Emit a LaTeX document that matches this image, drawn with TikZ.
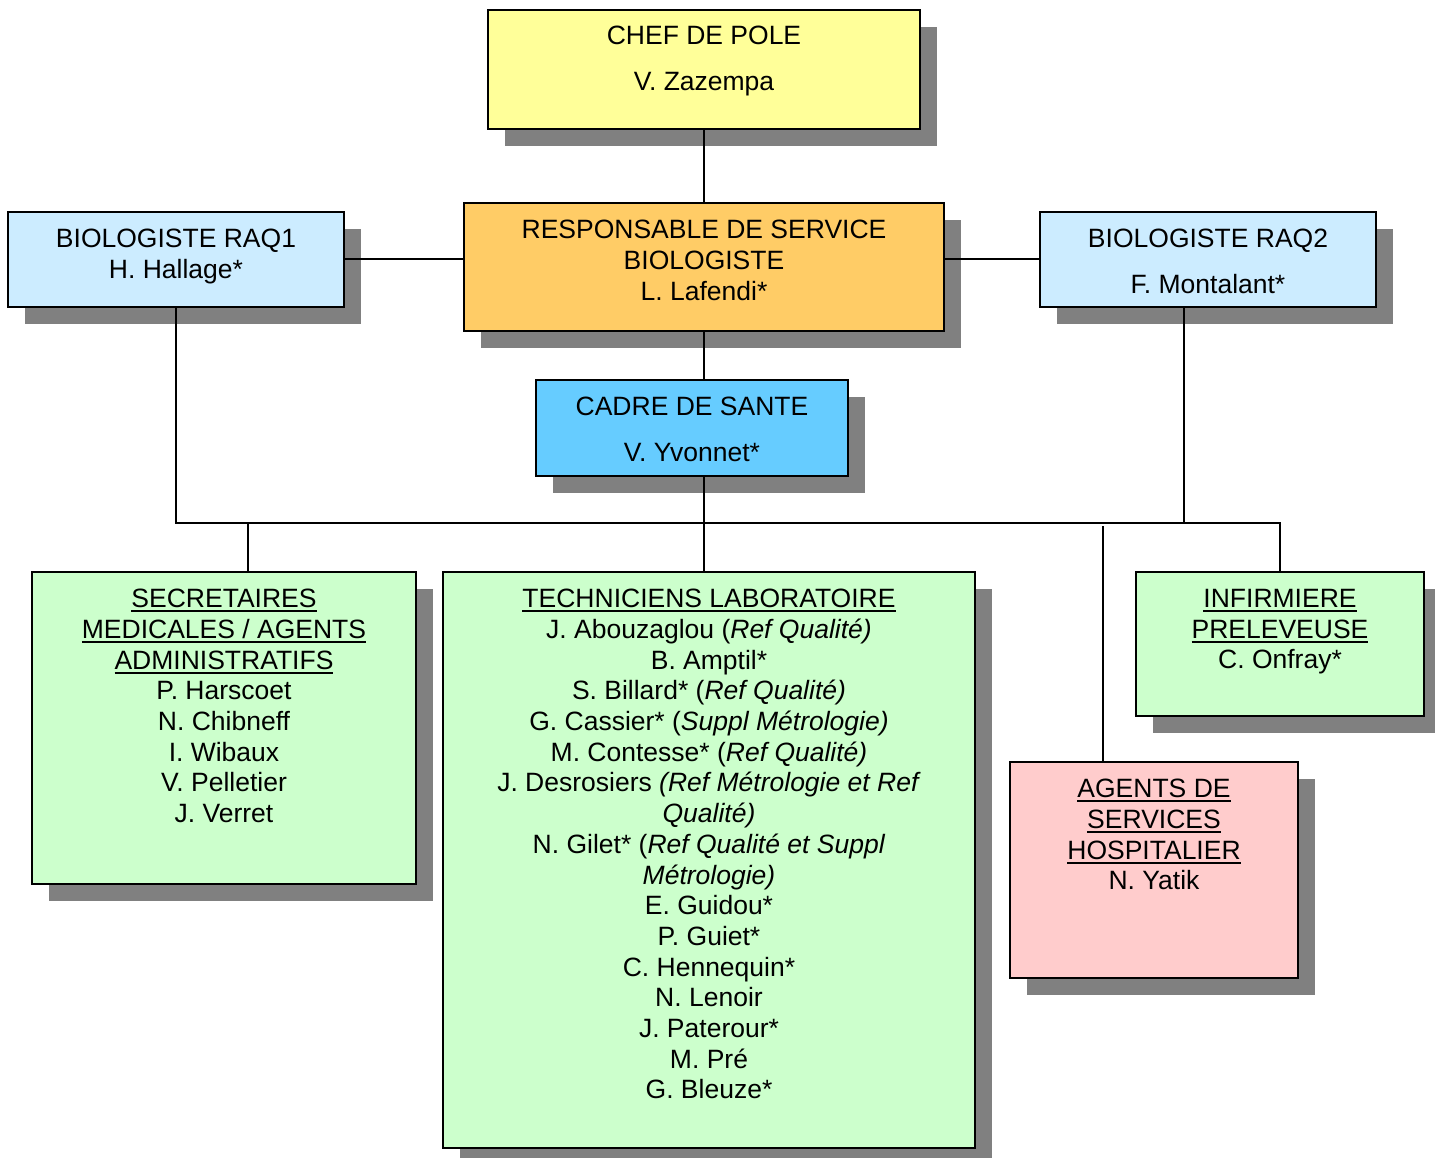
\documentclass[tikz,border=0pt]{standalone}
\usepackage{fontspec}
\setmainfont{Liberation Sans}
\usetikzlibrary{shadows}

\definecolor{jaune}{HTML}{FFFF99}
\definecolor{orange}{HTML}{FFCC66}
\definecolor{bleuclair}{HTML}{CCECFF}
\definecolor{bleu}{HTML}{66CCFF}
\definecolor{vert}{HTML}{CCFFCC}
\definecolor{rose}{HTML}{FFCCCC}
\definecolor{ombre}{HTML}{808080}

\newcommand\souligne[1]{\setbox0\hbox{#1}\rlap{\rule[-4.5pt]{\wd0}{1.8pt}}\box0}

\begin{document}
\begin{tikzpicture}[x=1pt, y=-1pt,
  boite/.style={rectangle, draw, line width=2pt, inner sep=0pt,
                drop shadow={shadow xshift=17pt, shadow yshift=-17pt, fill=ombre, opacity=1, draw=none}},
  texte/.style={anchor=north, align=center, inner sep=0pt,
                font=\fontsize{26.5}{30.7}\selectfont},
  trait/.style={line width=2pt}]
\useasboundingbox (0,0) rectangle (1435,1158);

% boites
\node[boite, fill=jaune, minimum width=432pt, minimum height=119pt](chef) at (704,69.5){};
\node[boite, fill=orange, minimum width=480pt, minimum height=128pt](resp) at (704,267){};
\node[boite, fill=bleuclair, minimum width=336pt, minimum height=95pt](raq1) at (176,259.5){};
\node[boite, fill=bleuclair, minimum width=336pt, minimum height=95pt](raq2) at (1208,259.5){};
\node[boite, fill=bleu, minimum width=312pt, minimum height=96pt](cadre) at (692,428){};
\node[boite, fill=vert, minimum width=384pt, minimum height=312pt](secr) at (224,728){};
\node[boite, fill=vert, minimum width=532pt, minimum height=576pt](tech) at (709,860){};
\node[boite, fill=vert, minimum width=288pt, minimum height=144pt](infi) at (1280,644){};
\node[boite, fill=rose, minimum width=288pt, minimum height=216pt](agen) at (1154,870){};

% textes
\node[texte](tchef) at ([yshift=-17pt]chef.north){CHEF DE POLE\\[15.3pt]V. Zazempa};
\node[texte](tresp) at ([yshift=-18pt]resp.north){RESPONSABLE DE SERVICE\\BIOLOGISTE\\L. Lafendi*};
\node[texte](traq1) at ([yshift=-18pt]raq1.north){BIOLOGISTE RAQ1\\H. Hallage*};
\node[texte](traq2) at ([yshift=-18pt]raq2.north){BIOLOGISTE RAQ2\\[15.3pt]F. Montalant*};
\node[texte](tcadre) at ([yshift=-18pt]cadre.north){CADRE DE SANTE\\[15.3pt]V. Yvonnet*};
\node[texte](tsecr) at ([yshift=-18pt]secr.north){\souligne{SECRETAIRES}\\\souligne{MEDICALES / AGENTS}\\
  \souligne{ADMINISTRATIFS}\\P. Harscoet\\N. Chibneff\\I. Wibaux\\V. Pelletier\\J. Verret};
\node[texte](ttech) at ([yshift=-18pt]tech.north){\souligne{TECHNICIENS LABORATOIRE}\\
  J. Abouzaglou (\textit{Ref Qualité)}\\B. Amptil*\\S. Billard* (\textit{Ref Qualité)}\\
  G. Cassier* (\textit{Suppl Métrologie)}\\M. Contesse* (\textit{Ref Qualité)}\\
  J. Desrosiers \textit{(Ref Métrologie et Ref}\\\textit{Qualité)}\\
  N. Gilet* (\textit{Ref Qualité et Suppl}\\\textit{Métrologie)}\\
  E. Guidou*\\P. Guiet*\\C. Hennequin*\\N. Lenoir\\J. Paterour*\\M. Pré\\G. Bleuze*};
\node[texte](tinfi) at ([yshift=-18pt]infi.north){\souligne{INFIRMIERE}\\\souligne{PRELEVEUSE}\\C. Onfray*};
\node[texte](tagen) at ([yshift=-18pt]agen.north){\souligne{AGENTS DE}\\\souligne{SERVICES}\\\souligne{HOSPITALIER}\\N. Yatik};

% liaisons
\coordinate (bus) at (0,523);
\coordinate (braq2) at (1184,307);
\coordinate (bsecr) at (248,523);
\coordinate (bagen) at (1103,526);
\draw[trait](chef.south)--(resp.north);
\draw[trait](raq1.east)--(raq1.east -| resp.west);
\draw[trait](resp.east |- raq2.west)--(raq2.west);
\draw[trait](resp.south)--(resp.south |- cadre.north);
\draw[trait](resp.south |- cadre.south)--(resp.south |- tech.north);
\draw[trait](raq1.south)--(raq1.south |- bus) -| (infi.north);
\draw[trait](braq2)--(braq2 |- bus);
\draw[trait](bsecr)--(bsecr |- secr.north);
\draw[trait](bagen)--(bagen |- agen.north);
\end{tikzpicture}
\end{document}
